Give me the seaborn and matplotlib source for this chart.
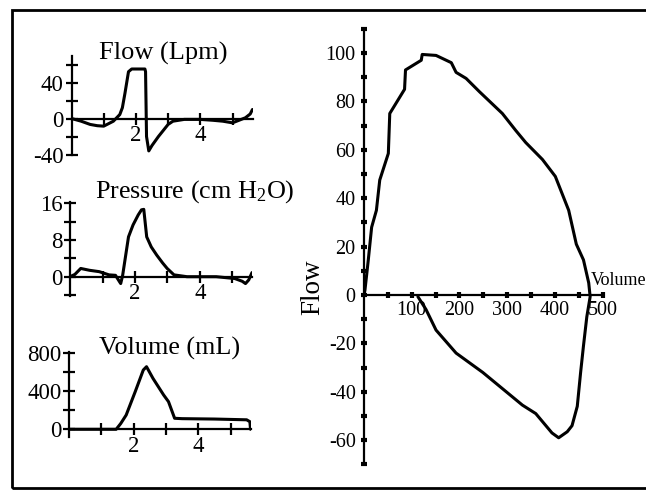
import numpy as np
import pandas as pd
import matplotlib
matplotlib.use("Agg")
import matplotlib.pyplot as plt
import matplotlib.patches as mpatches
import seaborn as sns

sns.set_theme(style="white")
plt.rcParams["font.family"] = ["Liberation Serif", "DejaVu Serif"]
plt.rcParams["mathtext.fontset"] = "custom"
plt.rcParams["mathtext.rm"] = "Liberation Serif"
plt.rcParams["mathtext.it"] = "Liberation Serif:italic"
plt.rcParams["text.color"] = "black"

# ---------------------------------------------------------------------------
# data
# ---------------------------------------------------------------------------
flow_t = [0, 0.3, 0.58, 0.8, 1.0, 1.3, 1.5, 1.58, 1.66, 1.77, 1.87, 2.28, 2.3,
          2.33, 2.4, 2.5, 2.7, 3.0, 3.15, 3.5, 4.0, 4.4, 4.7, 5.0, 5.2, 5.4,
          5.55, 5.62]
flow_v = [0, -3, -6.6, -8, -8.5, -3, 4.4, 12, 28, 52, 55, 55, 52,
          -20, -36, -30, -20, -6.6, -3, -1, -1, -2, -3, -4.8, -2, 0.8,
          5, 10]

press_t = [0, 0.15, 0.33, 0.6, 0.9, 1.2, 1.4, 1.56, 1.62, 1.8, 1.94, 2.1, 2.2,
           2.27, 2.36, 2.5, 2.67, 2.85, 2.99, 3.2, 3.6, 4.5, 5.07, 5.3, 5.4,
           5.5, 5.6]
press_v = [0, 0.5, 1.8, 1.4, 1.1, 0.4, 0.3, -1.5, 0.3, 8.7, 11.3, 13.5, 14.6,
           14.7, 8.7, 6.5, 4.7, 3.0, 1.8, 0.4, 0, 0, -0.4, -1, -1.5,
           -0.7, 0.9]

vol_t = [0, 0.5, 1.0, 1.46, 1.6, 1.77, 2.05, 2.3, 2.4, 2.6, 2.93, 3.08, 3.27,
         3.5, 4.5, 5.5, 5.6, 5.62]
vol_v = [0, 0, 0, 0, 60, 150, 396, 624, 659, 536, 361, 291, 116,
         112, 108, 100, 80, 0]

loop_vol = [0, 2, 9, 16, 26, 33, 51, 54, 85, 87, 120, 122, 151, 183, 193, 214,
            242, 290, 318, 339, 374, 401, 429, 445, 460, 471, 474, 467, 460,
            454, 447, 436, 426, 408, 394, 360, 332, 249, 193, 151, 130, 113]
loop_flow = [0, 2, 14.5, 28, 35, 47.5, 58.5, 75, 85, 93, 97, 99.4, 99, 96, 92,
             89.5, 84, 75, 68, 63, 56, 49, 35, 21, 14.5, 5, -0.7, -9, -21,
             -32, -46, -54, -56.5, -59, -57, -49, -45.5, -32, -24, -14.5, -6,
             -0.7]

W, H = 646, 491
fig = plt.figure(figsize=(W / 100, H / 100), dpi=100)


def place(x0, sx, y0, sy, xlim, ylim):
    # pixel origin + pixel-per-unit scale -> figure rect
    left = x0 + xlim[0] * sx
    right = x0 + xlim[1] * sx
    top = y0 - ylim[1] * sy
    bottom = y0 - ylim[0] * sy
    ax = fig.add_axes([left / W, 1 - bottom / H, (right - left) / W, (bottom - top) / H])
    ax.set_xlim(*xlim)
    ax.set_ylim(*ylim)
    ax.patch.set_alpha(0)
    for s in ["top", "right"]:
        ax.spines[s].set_visible(False)
    for s in ["left", "bottom"]:
        ax.spines[s].set_position(("data", 0))
        ax.spines[s].set_linewidth(1.6)
        ax.spines[s].set_color("black")
    ax.tick_params(bottom=True, left=True, top=False, right=False)
    return ax


def small_ticks(ax, yticks, ylabels):
    ax.set_xticks([1, 2, 3, 4, 5])
    ax.set_xticklabels(["", "2", "", "4", ""])
    ax.set_yticks(yticks)
    ax.set_yticklabels(ylabels)
    ax.tick_params(direction="inout", length=9, width=1.6, colors="black",
                   labelsize=16.5, pad=1)
    ax.tick_params(axis="x", pad=0)


def ptext(x, y, s, **kw):
    fig.text(x / W, 1 - y / H, s, **kw)


# panel: flow
ax1 = place(71.5, 32.2, 118.5, 0.9, (0, 5.65), (-41, 70))
sns.lineplot(x=flow_t, y=flow_v, sort=False, color="black", linewidth=2.2, ax=ax1)
small_ticks(ax1, [-40, -20, 0, 20, 40, 60], ["-40", "", "0", "", "40", ""])
ptext(163, 53, "Flow (Lpm)", ha="center", va="center", fontsize=19)

# panel: pressure
ax2 = place(70, 32.5, 276.7, 4.58, (0, 5.6), (-4.2, 16.3))
sns.lineplot(x=press_t, y=press_v, sort=False, color="black", linewidth=2.2, ax=ax2)
small_ticks(ax2, [-4, 0, 4, 8, 12, 16], ["", "0", "", "8", "", "16"])
ptext(195, 192, "Pressure (cm H$_2$O)", ha="center", va="center", fontsize=18.8)

# panel: volume
ax3 = place(69, 32.3, 429.3, 0.095, (0, 5.65), (-85, 810))
sns.lineplot(x=vol_t, y=vol_v, sort=False, color="black", linewidth=2.2, ax=ax3)
small_ticks(ax3, [0, 200, 400, 600, 800], ["0", "", "400", "", "800"])
ptext(170, 348, "Volume (mL)", ha="center", va="center", fontsize=18.8)

# panel: flow-volume loop
ax4 = place(364, 0.48, 295, 2.42, (0, 497), (-70, 110))
sns.lineplot(x=loop_vol, y=loop_flow, sort=False, estimator=None,
             color="black", linewidth=2.2, ax=ax4)
ax4.set_yticks(np.arange(-60, 101, 20))
ax4.set_yticklabels([str(v) for v in range(-60, 101, 20)])
ax4.set_yticks(np.arange(-70, 111, 10), minor=True)
ax4.set_xticks(np.arange(100, 501, 100))
ax4.set_xticklabels([str(v) for v in range(100, 501, 100)])
ax4.set_xticks(np.arange(50, 451, 50), minor=True)
ax4.tick_params(which="both", direction="inout", length=4, width=3,
                colors="black", labelsize=14.5, pad=4,
                bottom=True, left=True)
ax4.tick_params(axis="x", pad=2)
ax4.set_xlabel("")
ax4.set_ylabel("")
ax4.text(475, 6, "Volume", ha="left", va="center", fontsize=13, clip_on=False)
ptext(313, 287, "Flow", ha="center", va="center", rotation=90, fontsize=19.5)

for a in (ax1, ax2, ax3):
    a.set_xlabel("")
    a.set_ylabel("")

# scanned frame around the whole figure
frame = mpatches.Rectangle((12 / W, 1 - 488 / H), 700 / W, 478 / H,
                           transform=fig.transFigure, fill=False,
                           edgecolor="black", linewidth=2)
fig.patches.append(frame)

fig.savefig("out.png", dpi=100)
